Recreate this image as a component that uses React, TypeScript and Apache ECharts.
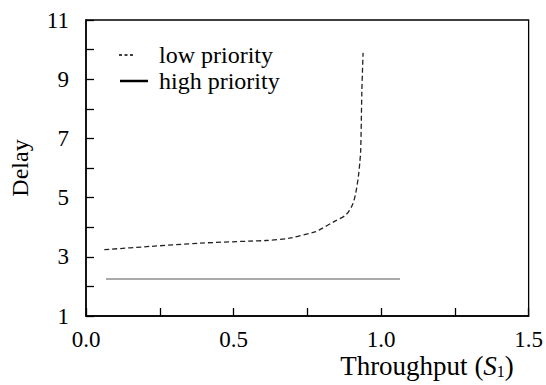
import React, { useEffect, useRef } from "react";
import * as echarts from "echarts";

const lowX = [0.062, 0.216, 0.385, 0.554, 0.61, 0.689, 0.779, 0.791, 0.841, 0.881, 0.903, 0.914, 0.923, 0.928, 0.931, 0.935, 0.939];
const lowY = [3.24, 3.35, 3.46, 3.53, 3.55, 3.63, 3.85, 3.91, 4.19, 4.42, 4.76, 5.15, 5.71, 6.2, 6.62, 8.65, 9.89];
const highX = [0.068, 1.064];
const highY = [2.25, 2.25];
const seriesNames = ["low priority", "high priority"];
const xTickLabels = ["0.0", "0.5", "1.0", "1.5"];
const yTickLabels = ["1", "3", "5", "7", "9", "11"];

const FONT = "Times New Roman";

export default function App() {
  const ref = useRef<HTMLDivElement>(null);
  useEffect(() => {
    if (!ref.current) return;
    document.body.style.margin = "0";
    const chart = echarts.init(ref.current, null, { renderer: "svg" });
    const lowData = lowX.map((x, i) => [x, lowY[i]]);
    const highData = highX.map((x, i) => [x, highY[i]]);
    chart.setOption({
      animation: false,
      grid: {
        left: 86,
        top: 20,
        right: 16,
        bottom: 69,
        show: true,
        borderColor: "#000",
        borderWidth: 1.3,
        backgroundColor: "transparent",
      },
      xAxis: {
        type: "value",
        min: 0,
        max: 1.5,
        interval: 0.25,
        splitLine: { show: false },
        axisLine: { lineStyle: { color: "#000", width: 1.5 } },
        axisTick: { inside: true, length: 8, lineStyle: { color: "#000", width: 1.3 } },
        axisLabel: {
          fontFamily: FONT,
          fontSize: 23,
          color: "#000",
          margin: 12,
          formatter: (v: number) => {
            const idx = Math.round(v / 0.5);
            return Math.abs(v - idx * 0.5) < 1e-6 ? xTickLabels[idx] : "";
          },
        },
      },
      yAxis: {
        type: "value",
        min: 1,
        max: 11,
        interval: 1,
        name: "Delay",
        nameLocation: "middle",
        nameGap: 54,
        nameTextStyle: { fontFamily: FONT, fontSize: 24, color: "#000" },
        splitLine: { show: false },
        axisLine: { lineStyle: { color: "#000", width: 1.5 } },
        axisTick: { inside: true, length: 8, lineStyle: { color: "#000", width: 1.3 } },
        axisLabel: {
          fontFamily: FONT,
          fontSize: 23,
          color: "#000",
          margin: 17,
          formatter: (v: number) => {
            const r = Math.round(v);
            return r % 2 === 1 ? yTickLabels[(r - 1) / 2] : "";
          },
        },
      },
      graphic: [
        {
          type: "line",
          shape: { x1: 119, y1: 55, x2: 135, y2: 55 },
          style: { stroke: "#000", lineWidth: 1.5, lineDash: [3, 2.5] },
        },
        {
          type: "text",
          x: 159,
          y: 55,
          style: { text: seriesNames[0], fontFamily: FONT, fontSize: 24, fill: "#000", verticalAlign: "middle" },
        },
        {
          type: "line",
          shape: { x1: 120, y1: 81, x2: 148, y2: 81 },
          style: { stroke: "#000", lineWidth: 2.5 },
        },
        {
          type: "text",
          x: 159,
          y: 81,
          style: { text: seriesNames[1], fontFamily: FONT, fontSize: 24, fill: "#000", verticalAlign: "middle" },
        },
        {
          type: "text",
          x: 427,
          y: 366,
          style: {
            text: "Throughput ({i|S}{sub|1})",
            fontFamily: FONT,
            fontSize: 27,
            fill: "#000",
            align: "center",
            verticalAlign: "middle",
            rich: {
              i: { fontFamily: FONT, fontSize: 27, fontStyle: "italic", fill: "#000" },
              sub: { fontFamily: FONT, fontSize: 16, fill: "#000", verticalAlign: "bottom", padding: [8, 0, 0, 0] },
            },
          },
        },
      ],
      series: [
        {
          name: seriesNames[0],
          type: "line",
          data: lowData,
          symbol: "none",
          smooth: 0.3,
          lineStyle: { color: "#222", width: 1.3, type: [5, 3] },
        },
        {
          name: seriesNames[1],
          type: "line",
          data: highData,
          symbol: "none",
          lineStyle: { color: "#555", width: 1.1, type: "solid" },
        },
      ],
    });
    return () => chart.dispose();
  }, []);
  return <div ref={ref} style={{ width: 546, height: 385 }} />;
}
